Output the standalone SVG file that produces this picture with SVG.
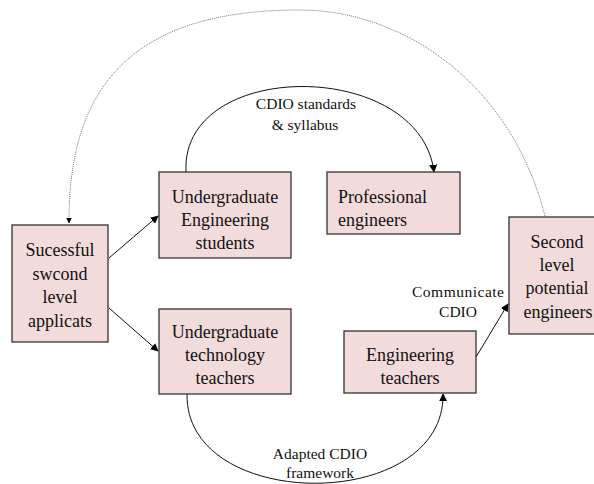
<svg xmlns="http://www.w3.org/2000/svg" width="594" height="484" viewBox="0 0 594 484">
<defs>
<marker id="ah" viewBox="0 0 10 10" refX="9" refY="5" markerWidth="8" markerHeight="8" markerUnits="userSpaceOnUse" orient="auto"><path d="M0 0 L10 5 L0 10 z" fill="#000"/></marker>
<marker id="ahs" viewBox="0 0 10 10" refX="9" refY="5" markerWidth="6" markerHeight="6" markerUnits="userSpaceOnUse" orient="auto"><path d="M0 0 L10 5 L0 10 z" fill="#000"/></marker>
</defs>
<style>
.box{fill:#f2dcdb;stroke:#333;stroke-width:1.3}
.t{font-family:"Liberation Serif","Times New Roman",serif;font-size:18px;fill:#111;text-anchor:middle}
.l{font-family:"Liberation Serif","Times New Roman",serif;font-size:15.5px;fill:#111;text-anchor:middle}
.c{fill:none;stroke:#111;stroke-width:1}
.d{fill:none;stroke:#777;stroke-width:1;stroke-dasharray:1 1}
</style>
<rect width="594" height="484" fill="#fff"/>
<g id="connectors">
<path class="d" d="M545 216 C510 80,400 10,300 10 C150 10,68 70,69 223" marker-end="url(#ahs)"/>
<path class="c" d="M186 172 C180 58,420 58,434 172" marker-end="url(#ah)"/>
<line class="c" x1="109" y1="258" x2="158" y2="216" marker-end="url(#ah)"/>
<line class="c" x1="109" y1="308" x2="158" y2="351" marker-end="url(#ah)"/>
<line class="c" x1="476" y1="357" x2="508" y2="304" marker-end="url(#ah)"/>
<path class="c" d="M187 394 C185 513,445 513,443 394" marker-end="url(#ah)"/>
<text class="l" x="306" y="109">CDIO standards</text>
<text class="l" x="305" y="130">&amp; syllabus</text>
<text class="l" x="458" y="297" textLength="92">Communicate</text>
<text class="l" x="458" y="317">CDIO</text>
<text class="l" x="320" y="459">Adapted CDIO</text>
<text class="l" x="320" y="478">framework</text>
</g>
<g id="n-successful">
<rect class="box" x="12" y="225" width="96" height="117"/>
<text class="t" x="60" y="256">Sucessful</text>
<text class="t" x="60" y="280">swcond</text>
<text class="t" x="60" y="303">level</text>
<text class="t" x="60" y="327">applicats</text>
</g>
<g id="n-ug-eng">
<rect class="box" x="159" y="172" width="132" height="86"/>
<text class="t" x="225" y="203">Undergraduate</text>
<text class="t" x="225" y="226">Engineering</text>
<text class="t" x="225" y="249">students</text>
</g>
<g id="n-prof">
<rect class="box" x="327" y="172" width="133" height="62"/>
<text class="t" x="338" y="203" style="text-anchor:start">Professional</text>
<text class="t" x="338" y="226" style="text-anchor:start">engineers</text>
</g>
<g id="n-second">
<rect class="box" x="509" y="217" width="92" height="117"/>
<text class="t" x="557" y="248">Second</text>
<text class="t" x="557" y="271">level</text>
<text class="t" x="557" y="294">potential</text>
<text class="t" x="558" y="318">engineers</text>
</g>
<g id="n-ug-tech">
<rect class="box" x="159" y="309" width="132" height="85"/>
<text class="t" x="225" y="338">Undergraduate</text>
<text class="t" x="225" y="361">technology</text>
<text class="t" x="225" y="384">teachers</text>
</g>
<g id="n-eng-teach">
<rect class="box" x="344" y="331" width="132" height="62"/>
<text class="t" x="410" y="361">Engineering</text>
<text class="t" x="410" y="384">teachers</text>
</g>
</svg>
